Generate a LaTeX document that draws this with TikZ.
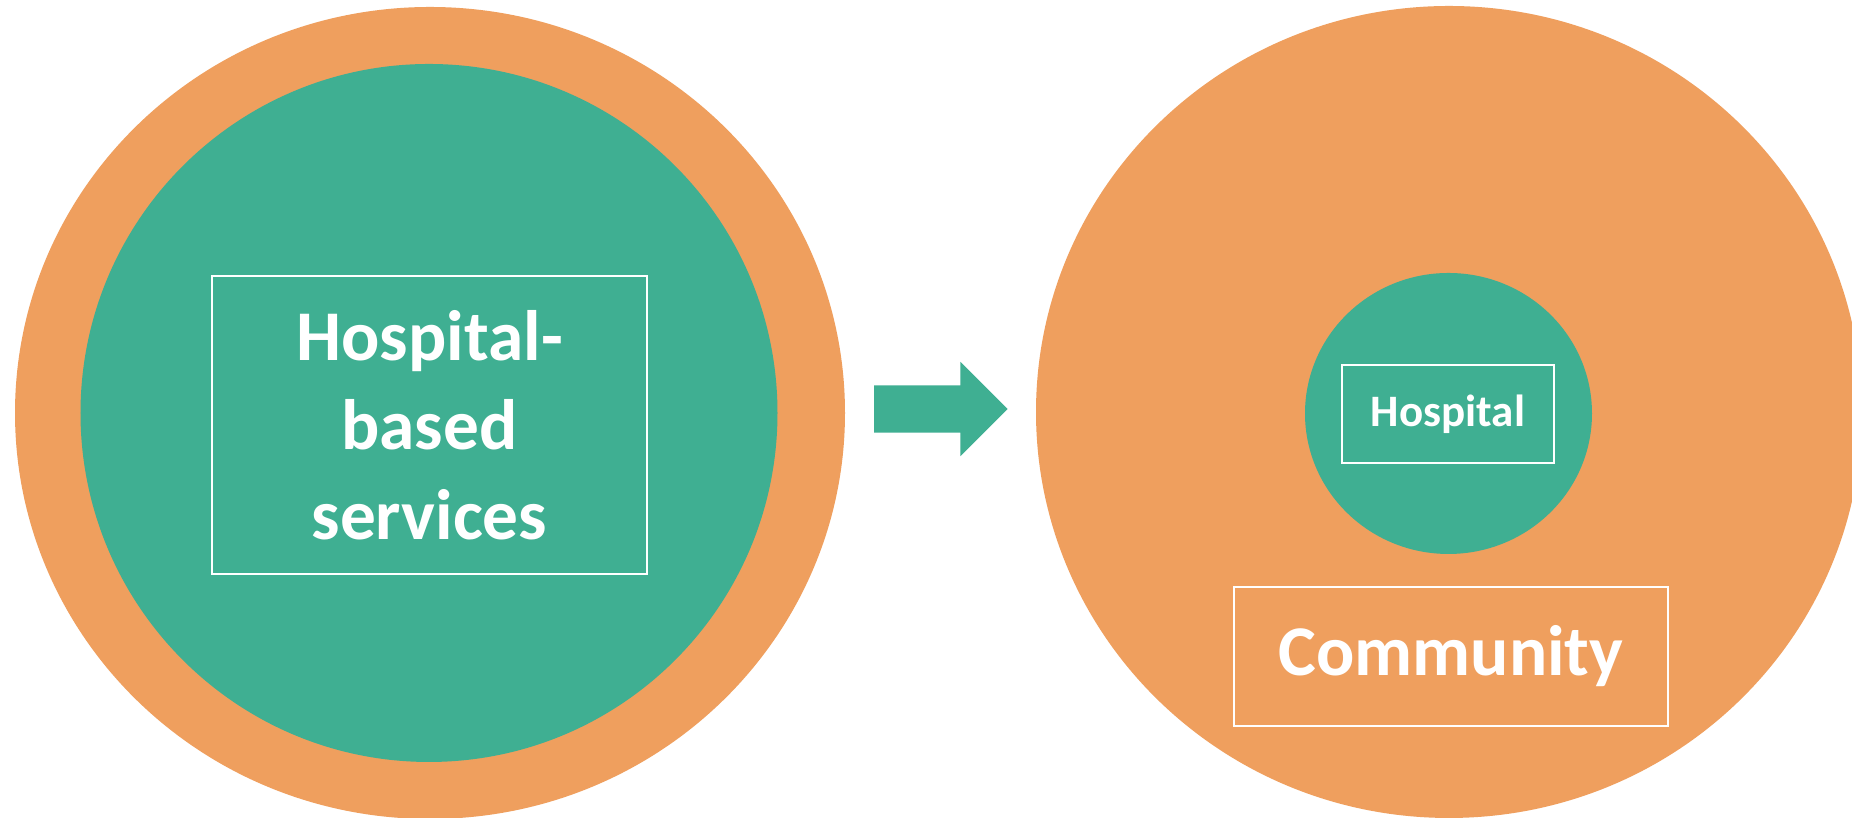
\documentclass[tikz,border=0pt]{standalone}
\usepackage{fontspec}
\setmainfont{Carlito}
\usetikzlibrary{
    shapes.geometric,
    shapes.arrows,
    positioning
}
\definecolor{bgWhite}{RGB}{255, 255, 255}
\definecolor{ringOrange}{RGB}{239, 159, 94}
\definecolor{coreTeal}{RGB}{63, 175, 146}
\definecolor{textWhite}{RGB}{255, 255, 255}
\def\slideW{18.52}
\def\slideH{8.18}
\tikzset{
    ring/.style={
        ellipse,
        fill=ringOrange,
        draw=none,
        inner sep=0pt
    },
    core/.style={
        ellipse,
        fill=coreTeal,
        draw=none,
        inner sep=0pt
    },
    labelBox/.style={
        rectangle,
        draw=textWhite,
        line width=0.6pt,
        text=textWhite,
        align=center,
        inner sep=0pt,
        font=\bfseries\fontsize{20.3}{25.5}\selectfont
    },
    shiftArrow/.style={
        single arrow,
        fill=coreTeal,
        draw=none,
        inner xsep=0pt,
        inner ysep=0.23cm,
        single arrow head extend=0.235cm,
        minimum width=0.93cm,
        minimum height=1.335cm
    }
}
\begin{document}
\begin{tikzpicture}
    \useasboundingbox (0,0) rectangle (\slideW, \slideH);
    \fill[bgWhite] (0,0) rectangle (\slideW, \slideH);

    % Before: hospital-based
    \node[ring, minimum width=8.30cm, minimum height=8.12cm] (oldRing) at (4.30, 4.05) {};
    \node[core, minimum width=6.97cm, minimum height=6.98cm] (oldCore) at (4.29, 4.05) {};
    \node[labelBox, minimum width=4.35cm, minimum height=2.98cm] (oldLabel) at (4.295, 3.93)
        {Hospital-\\based\\services};

    % Shift
    \node[shiftArrow] (shift) at (9.29, 4.09) {};

    % After: community
    \node[ring, minimum width=8.26cm, minimum height=8.12cm] (newRing) at (14.49, 4.06) {};
    \node[core, minimum width=2.87cm, minimum height=2.81cm] (newCore) at (14.485, 4.045) {};
    \node[labelBox, minimum width=2.12cm, minimum height=0.98cm,
        font=\bfseries\fontsize{12.8}{15}\selectfont] (hospLabel) at (14.48, 4.04) {Hospital};
    \node[labelBox, minimum width=4.34cm, minimum height=1.39cm] (commLabel) at (14.51, 1.615) {Community};
\end{tikzpicture}
\end{document}
